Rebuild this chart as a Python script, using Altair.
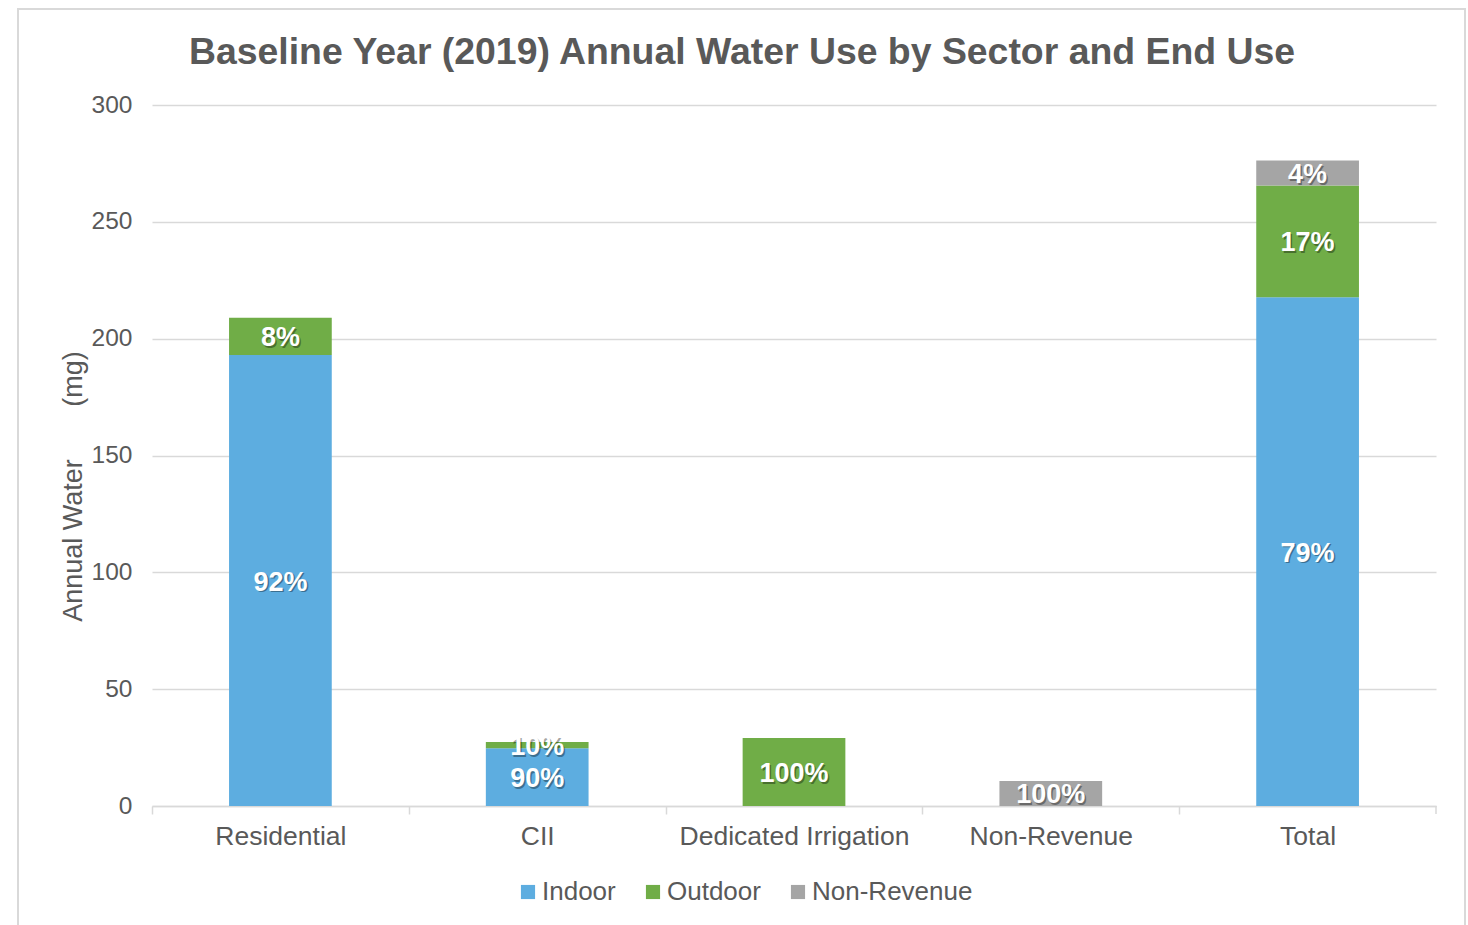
import altair as alt
import pandas as pd

title_text = "Baseline Year (2019) Annual Water Use by Sector and End Use"
categories = ["Residential", "CII", "Dedicated Irrigation", "Non-Revenue", "Total"]
end_uses = ["Indoor", "Outdoor", "Non-Revenue"]
indoor = [193.0, 24.7, 0.0, 0.0, 217.7]
outdoor = [16.0, 2.7, 29.1, 0.0, 47.8]
non_revenue = [0.0, 0.0, 0.0, 10.7, 10.7]
colors = ["#5DADE0", "#70AD47", "#A5A5A5"]
y_ticks = [0, 50, 100, 150, 200, 250, 300]

rows = []
for i, cat in enumerate(categories):
    vals = [indoor[i], outdoor[i], non_revenue[i]]
    total = sum(vals)
    start = 0.0
    for j, (use, v) in enumerate(zip(end_uses, vals)):
        if v > 0:
            rows.append({
                "Sector": cat, "Use": use, "order": j, "value": v,
                "start": start, "end": start + v, "mid": start + v / 2,
                "pct": f"{round(100 * v / total)}%",
            })
        start += v
df = pd.DataFrame(rows)

FONT = "Liberation Sans"
GREY = "#595959"
NB = "\u00a0"

x_enc = alt.X("Sector:N", sort=categories, title=None,
              scale=alt.Scale(paddingInner=0.6, paddingOuter=0.3),
              axis=alt.Axis(labelAngle=0, labelFontSize=26.5, labelColor=GREY, labelFont=FONT,
                            labelLimit=400,
                            domainColor="#d9d9d9", domainWidth=1.5, tickColor="#d9d9d9",
                            tickWidth=1.5, tickSize=8, tickOffset=-128.4, labelOffset=128.4,
                            labelPadding=9, grid=False))
y_scale = alt.Scale(domain=[0, 300])

bars = alt.Chart(df).mark_bar().encode(
    x=x_enc,
    y=alt.Y("start:Q", scale=y_scale,
            axis=alt.Axis(values=y_ticks, title="Annual Water" + NB * 7 + "(mg)", titleFontSize=27,
                          titleColor=GREY, titleFont=FONT, titleFontWeight="normal",
                          titleX=-79, titleY=381, titleAlign="center", titleBaseline="middle",
                          labelFontSize=24.5, labelColor=GREY, labelFont=FONT, labelPadding=20,
                          ticks=False, domain=False, gridColor="#d9d9d9", gridWidth=1.5)),
    y2="end:Q",
    color=alt.Color("Use:N", sort=end_uses,
                    scale=alt.Scale(domain=end_uses, range=colors),
                    legend=alt.Legend(orient="none", legendX=363, legendY=774, direction="horizontal",
                                      title=None, symbolType="square", symbolSize=200,
                                      symbolStrokeWidth=0, labelFontSize=26, labelColor=GREY,
                                      labelFont=FONT, labelLimit=400, columnPadding=24,
                                      labelOffset=1, padding=0)),
    order=alt.Order("order:Q"),
)

shadow = alt.Chart(df).mark_text(font=FONT, fontSize=27, fontWeight="bold", color="#000000",
                                 opacity=0.35, dx=1.5, dy=3.5).encode(
    x=alt.X("Sector:N", sort=categories),
    y=alt.Y("mid:Q", scale=y_scale),
    text="pct:N",
)
labels = alt.Chart(df).mark_text(font=FONT, fontSize=27, fontWeight="bold", color="#FFFFFF",
                                 dy=2).encode(
    x=alt.X("Sector:N", sort=categories),
    y=alt.Y("mid:Q", scale=y_scale),
    text="pct:N",
)

title = alt.Chart(alt.Data(values=[{"t": title_text}])).mark_text(
    font=FONT, fontSize=37.4, fontWeight="bold", color=GREY, align="center", baseline="middle").encode(
    x=alt.value(590), y=alt.value(-52), text="t:N")

frame = alt.Chart(alt.Data(values=[{"k": 1}])).mark_rect(
    filled=False, stroke="#d9d9d9", strokeWidth=2).encode(
    x=alt.value(-134), x2=alt.value(1313), y=alt.value(-96), y2=alt.value(840))

end_tick = alt.Chart(alt.Data(values=[{"k": 1}])).mark_rule(
    color="#d9d9d9", strokeWidth=1.5).encode(
    x=alt.value(1284), y=alt.value(701), y2=alt.value(709))

chart = alt.layer(frame, title, bars, shadow, labels, end_tick).properties(
    width=1284, height=701,
    autosize=alt.AutoSizeParams(type="none"),
    padding={"left": 152, "top": 105, "right": 32, "bottom": 119},
    background="white",
).configure_view(stroke=None)

chart.save("out.html", embed_options={"renderer": "svg", "actions": False})
